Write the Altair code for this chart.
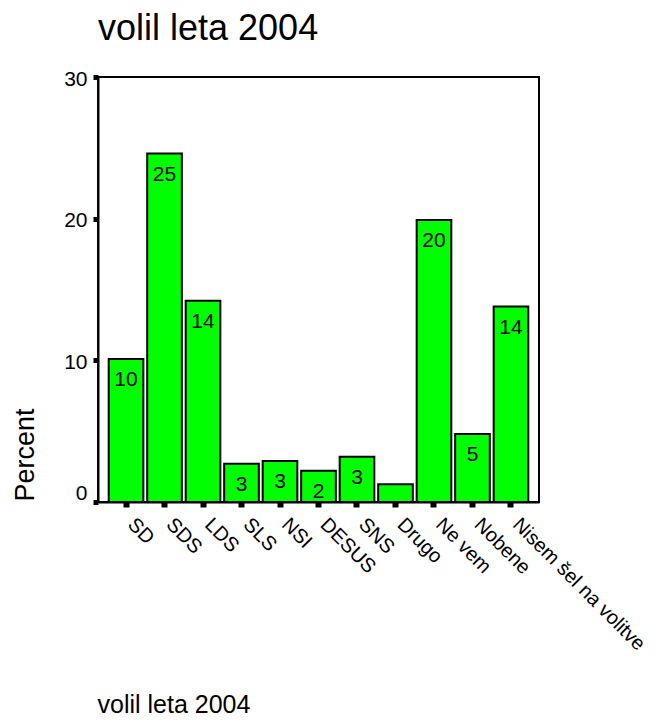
import altair as alt
import pandas as pd

categories = ["SD", "SDS", "LDS", "SLS", "NSI", "DESUS", "SNS", "Drugo",
              "Ne vem", "Nobene", "Nisem šel na volitve"]
percent = [10.1, 24.6, 14.2, 2.7, 2.9, 2.2, 3.2, 1.25, 19.9, 4.8, 13.8]
bar_labels = ["10", "25", "14", "3", "3", "2", "3", "", "20", "5", "14"]
y_ticks = [0, 10, 20, 30]

FONT = "Liberation Sans"

df = pd.DataFrame({"party": categories, "percent": percent, "label": bar_labels})

x = alt.X(
    "party:N",
    sort=categories,
    title="volil leta 2004",
    scale=alt.Scale(paddingInner=0.1, paddingOuter=0.278),
    axis=alt.Axis(
        labelAngle=45, labelAlign="left", labelBaseline="top",
        labelFontSize=20, labelPadding=7, labelOffset=12, labelLimit=0,
        labelOverlap=False, labelColor="black",
        tickSize=5, tickWidth=6, tickColor="black",
        domainColor="black", domainWidth=2,
        titleFontSize=25, titleFontWeight="normal", titleColor="black",
        titleX=-1, titleY=210, titleAlign="left", titleBaseline="alphabetic",
    ),
)

y = alt.Y(
    "percent:Q",
    title="Percent",
    scale=alt.Scale(domain=[0, 30], nice=False, zero=True),
    axis=alt.Axis(
        values=y_ticks, grid=False,
        tickSize=5, tickWidth=5, tickColor="black",
        labelPadding=6, labelFontSize=21, labelColor="black",
        labelOffset={"condition": {"test": "datum.value == 0", "value": -9}, "value": 2},
        domainColor="black", domainWidth=2,
        titleFontSize=27, titleFontWeight="normal", titleColor="black",
        titleAngle=270, titleX=-65, titleY=424, titleAlign="left",
        titleBaseline="alphabetic",
    ),
)

base = alt.Chart(df).encode(x=x, y=y)

bars = base.mark_bar(color="#00ff00", stroke="black", strokeWidth=2)
texts = base.mark_text(
    baseline="alphabetic", align="center", dy=27, fontSize=21, font=FONT, color="black"
).encode(text="label:N")

chart = (
    alt.layer(bars, texts)
    .properties(
        width=441,
        height=425,
        autosize="none",
        padding={"left": 90, "top": 69, "right": 116, "bottom": 214},
        title=alt.TitleParams(
            "volil leta 2004", anchor="start", frame="group", fontSize=36,
            fontWeight="normal", baseline="alphabetic", offset=25, dy=33,
            color="black", font=FONT,
        ),
    )
    .configure(font=FONT, background="white")
    .configure_view(stroke="black", strokeWidth=2)
)

chart.save("out.html", embed_options={"renderer": "svg", "actions": False})
